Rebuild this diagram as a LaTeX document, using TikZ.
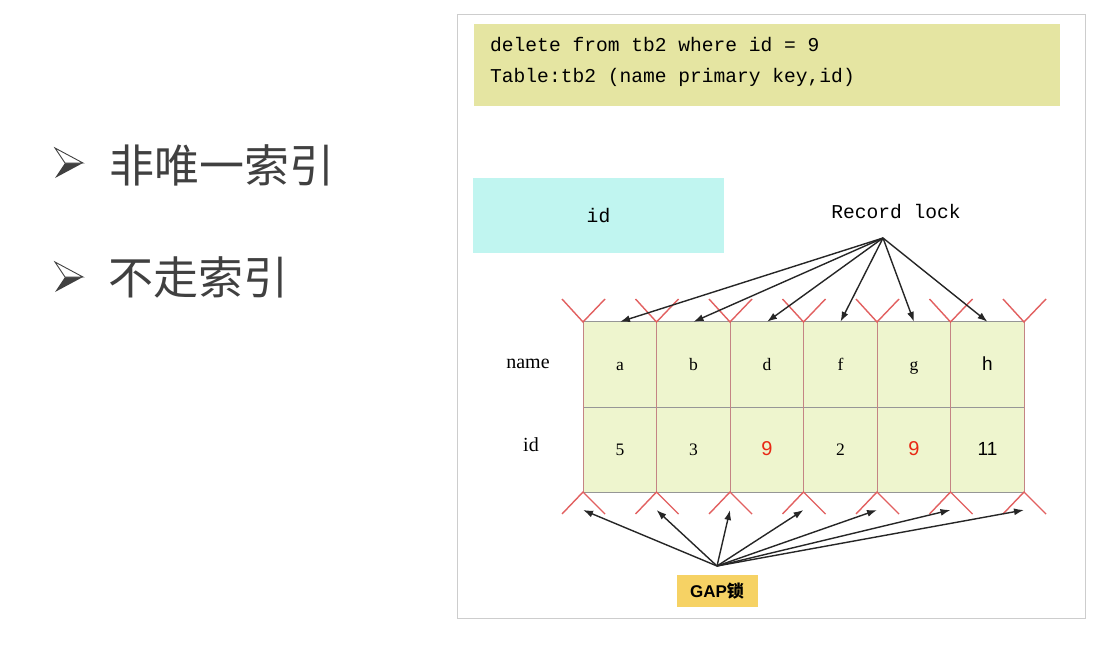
\documentclass[tikz,border=0pt]{standalone}
\usepackage{fontspec}
\setmainfont{Liberation Serif}
\setsansfont{Liberation Sans}
\setmonofont{Liberation Mono}
\newfontfamily\cjk{Noto Sans CJK SC}
\usetikzlibrary{arrows.meta,positioning}

\definecolor{sqlyellow}{RGB}{229,229,162}
\definecolor{idcyan}{RGB}{192,245,240}
\definecolor{cellfill}{RGB}{238,245,206}
\definecolor{lockred}{RGB}{226,96,96}
\definecolor{ninered}{RGB}{232,40,20}
\definecolor{colline}{RGB}{196,132,132}
\definecolor{rowline}{RGB}{150,150,150}
\definecolor{gapyellow}{RGB}{246,210,100}
\definecolor{panelgray}{RGB}{205,205,205}
\definecolor{bulletgray}{RGB}{64,64,64}

\newcommand\sfbig[1]{{\sffamily\fontsize{19}{21}\selectfont #1}}
\newcommand\nine{{\color{ninered}\sffamily\fontsize{20}{22}\selectfont 9}}

\begin{document}
\begin{tikzpicture}[x=1pt,y=-1pt,
    mono/.style={font=\ttfamily\fontsize{19.6}{31}\selectfont, inner sep=0},
    cell/.style={fill=cellfill, minimum width=73.5pt, minimum height=85pt, inner sep=0,
      text height=11pt, text depth=0pt, font=\fontsize{17.5}{19}\selectfont},
    vmark/.style={lockred, line width=1.4pt},
    lockarrow/.style={-{Latex[length=10pt,width=7pt]}, line width=1.4pt, black!85},
    item/.style={anchor=west, inner sep=0, text=bulletgray, font=\cjk\fontsize{45}{50}\selectfont}]

    \useasboundingbox (0,0) rectangle (1110,661);
    \fill[white] (0,0) rectangle (1110,661);

    \foreach \y in {163,277} {
      \fill[bulletgray] (55,\y+15) -- (83,\y) -- (65,\y) -- cycle;
      \draw[bulletgray, fill=white, line width=0.9pt] (55,\y-15) -- (83,\y) -- (65,\y) -- cycle;
    }
    \node[item] (item1) at (109,165) {非唯一索引};
    \node[item] (item2) at (108,277) {不走索引};

    \draw[panelgray, fill=white, line width=1pt] (457,15) rectangle (1085,618);

    \node[fill=sqlyellow, minimum width=586pt, minimum height=82pt] (sql) at (767,65) {};
    \node[mono, anchor=west, align=left] (sqltext) at (490,61.5)
      {delete from tb2 where id = 9\\Table:tb2 (name primary key,id)};

    \node[fill=idcyan, minimum width=251pt, minimum height=75pt, mono] (idbox) at (598.5,215.5) {id};
    \node[mono] (rec) at (896,212) {Record lock};
    \coordinate (rl) at (883,238);

    \node[font=\fontsize{20}{22}\selectfont] (namelbl) at (528,364) {name};
    \node[font=\fontsize{20}{22}\selectfont] (idlbl) at (531,445) {id};

    \foreach \i/\nm/\idv in {0/a/5,1/b/3,2/d/\nine,3/f/2,4/g/\nine,5/\sfbig{h}/\sfbig{11}} {
      \node[cell] (n\i) at ({620+73.5*\i},364.5) {\nm};
      \node[cell] (v\i) at ({620+73.5*\i},449.5) {\idv};
    }

    \draw[rowline, line width=1.2pt] (n0.north west) -- (n5.north east)
      (n0.south west) -- (n5.south east)
      (v0.south west) -- (v5.south east);
    \foreach \i in {0,...,5}
      \draw[colline, line width=1.1pt] (n\i.north west) -- (v\i.south west);
    \draw[colline, line width=1.1pt] (n5.north east) -- (v5.south east);

    \foreach \j in {0,...,6} {
      \pgfmathsetmacro\x{583+73.5*\j}
      \draw[vmark] (\x-21,299) -- (\x,322) -- (\x+22,299);
      \draw[vmark] (\x-21,514) -- (\x,492) -- (\x+22,514);
      \coordinate (g\j) at (\x,510);
    }

    \foreach \i in {0,...,5}
      \draw[lockarrow] (rl) -- (n\i.north);

    \node[fill=gapyellow, minimum width=81pt, minimum height=32pt,
      font=\sffamily\bfseries\fontsize{17}{19}\selectfont] (gaplbl) at (717,591) {GAP{\cjk 锁}};
    \coordinate (gap) at (717,566);
    \foreach \j in {0,...,6}
      \draw[lockarrow] (gap) -- (g\j);

\end{tikzpicture}
\end{document}
